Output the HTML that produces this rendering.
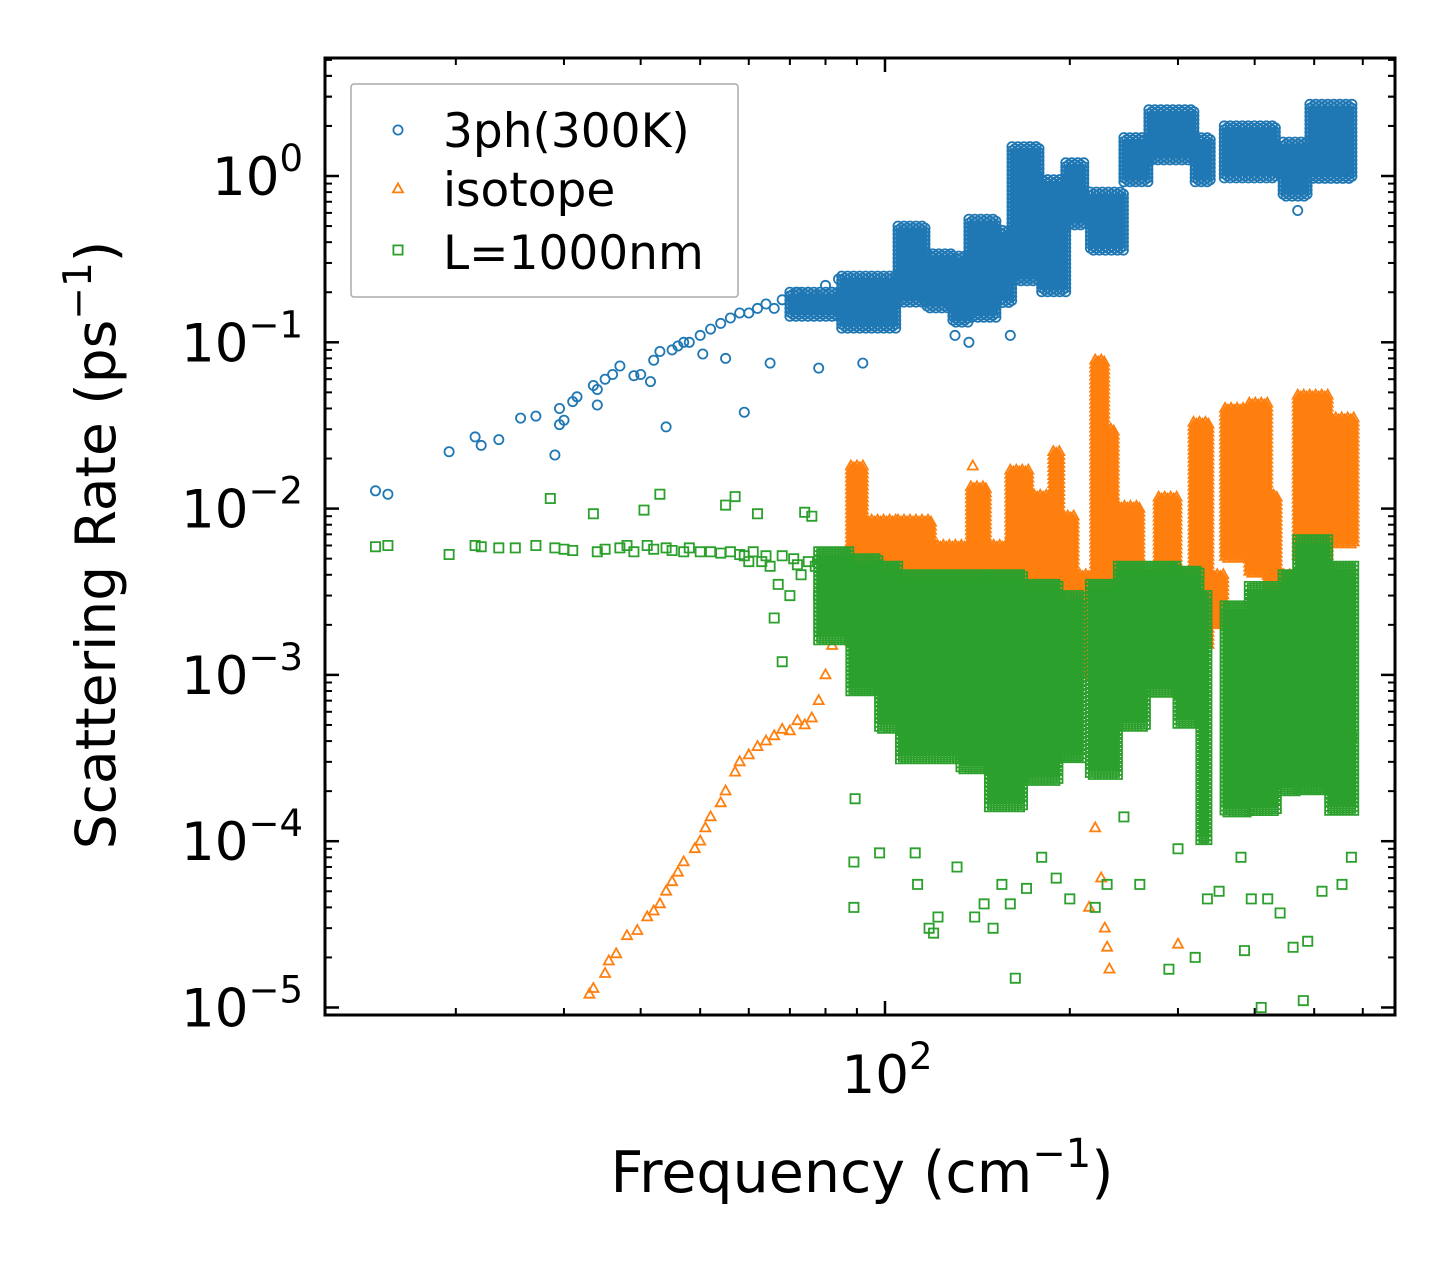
<!DOCTYPE html>
<html><head><meta charset="utf-8">
<style>
html,body{margin:0;padding:0;background:#fff;}
svg{display:block;font-family:"DejaVu Sans","Liberation Sans",sans-serif;}
</style></head>
<body>
<svg id="chart" width="1455" height="1265" viewBox="0 0 1455 1265" xmlns="http://www.w3.org/2000/svg">
<rect width="1455" height="1265" fill="#fff"/>
<g id="plot"></g>
<g id="axes"></g>
</svg>
<script>
// ---- data (frequency in cm^-1, rate in ps^-1) ----
const blueF = [14.8,15.5,19.5,21.5,22,23.5,25.5,27,29,29.5,29.5,30,31,31.5,33.5,34,34,35,36,37,39,40,41.5,42,43,44,45,46,47,48,50,50.5,52,54,55,56,58,59,60,62,64,65,66,68,70,72,75,77,78,80,82,84,86,88,90,92,130,137,160,470];
const blueV = [0.0128,0.0122,0.022,0.027,0.024,0.026,0.035,0.036,0.021,0.032,0.04,0.034,0.044,0.047,0.055,0.052,0.042,0.06,0.064,0.072,0.063,0.064,0.058,0.078,0.088,0.031,0.09,0.095,0.1,0.1,0.11,0.085,0.12,0.13,0.08,0.14,0.15,0.038,0.15,0.16,0.17,0.075,0.16,0.18,0.19,0.2,0.2,0.19,0.07,0.22,0.2,0.24,0.22,0.18,0.23,0.075,0.11,0.1,0.11,0.62];
const blueBandStart = [70,85,105,117,129,137,152,161,180,197,216,245,269,320,357,445,492];
const blueBandEnd   = [85,105,117,129,137,152,161,180,197,211,245,269,320,341,437,492,580];
const blueBandLo    = [0.14,0.12,0.17,0.16,0.13,0.14,0.17,0.23,0.2,0.5,0.35,0.9,1.25,0.9,0.95,0.75,0.95];
const blueBandHi    = [0.2,0.25,0.5,0.34,0.33,0.55,0.47,1.5,0.95,1.2,0.8,1.7,2.5,1.7,2.0,1.6,2.7];

const orangeF = [33,33.5,35,35.5,36.5,38,39.5,41,42,43,44,45,46,47,49,50,51,52,54,55,57,58,60,62,64,66,68,70,72,74,76,78,80,82,85,139,215,220,225,228,230,232,300];
const orangeV = [1.2e-5,1.3e-5,1.6e-5,1.9e-5,2.1e-5,2.7e-5,2.9e-5,3.5e-5,3.8e-5,4.2e-5,5e-5,5.7e-5,6.5e-5,7.5e-5,9e-5,1e-4,1.2e-4,1.4e-4,1.7e-4,2e-4,2.6e-4,3e-4,3.3e-4,3.7e-4,4e-4,4.3e-4,4.7e-4,4.6e-4,5.3e-4,5e-4,5.5e-4,7e-4,1e-3,1.5e-3,2.2e-3,0.018,4e-5,1.2e-4,6e-5,3e-5,2.3e-5,1.7e-5,2.4e-5];
const orangeBandStart = [88,93,105,119,138,147,160,175,188,194,203,220,228,240,262,279,300,318,340,358,392,420,436,470,530];
const orangeBandEnd   = [93,105,119,138,147,160,172,188,194,203,220,228,238,262,279,300,318,340,358,392,420,436,470,530,585];
const orangeBandLo    = [0.0015,0.0015,0.0015,0.0015,0.0015,0.0015,0.0015,0.0015,0.0015,0.0015,0.001,3e-4,4e-4,0.002,0.002,0.002,0.002,0.0015,0.002,0.005,0.004,0.0025,0.002,0.005,0.006];
const orangeBandHi    = [0.018,0.0085,0.0085,0.006,0.0135,0.006,0.017,0.012,0.022,0.009,0.004,0.078,0.03,0.0103,0.004,0.0117,0.004,0.033,0.004,0.04,0.043,0.012,0.004,0.048,0.035];

const greenF = [14.8,15.5,19.5,21.5,22,23.5,25,27,28.5,29,30,31,33.5,34,35,37,38,39,40.5,41,42,43,44,45,47,48,50,52,54,55,56,57,58,59,60,61,62,63,64,65,66,67,68,68,70,71,72,73,74,75,76,77,78,89.4,89,89,98,112,113,118,120,122,131,140,145,150,155,163,160,170,180,190,200,220,230,245,260,290,300,320,335,350,380,385,395,410,420,440,462,480,488,515,555,575,575];
const greenV = [0.0059,0.006,0.0053,0.006,0.0059,0.0058,0.0058,0.006,0.0115,0.0058,0.0057,0.0056,0.0093,0.0055,0.0057,0.0058,0.006,0.0055,0.0098,0.006,0.0057,0.0122,0.0058,0.0056,0.0055,0.0058,0.0055,0.0055,0.0054,0.0105,0.0055,0.0118,0.0053,0.0052,0.0048,0.0055,0.0093,0.0048,0.0052,0.0045,0.0022,0.0035,0.0052,0.0012,0.003,0.005,0.0046,0.004,0.0095,0.0048,0.009,0.0045,0.003,1.8e-4,7.5e-5,4e-5,8.5e-5,8.5e-5,5.5e-5,3e-5,2.8e-5,3.5e-5,7e-5,3.5e-5,4.2e-5,3e-5,5.5e-5,1.5e-5,4.2e-5,5.2e-5,8e-5,6e-5,4.5e-5,4e-5,5.5e-5,1.4e-4,5.5e-5,1.7e-5,9e-5,2e-5,4.5e-5,5e-5,8e-5,2.2e-5,4.5e-5,1e-5,4.5e-5,3.7e-5,2.3e-5,1.1e-5,2.5e-5,5e-5,5.5e-5,8e-5,4.2e-4];
const greenBandStart = [78,88,98,106,133,148,169,193,216,240,266,300,327,358,392,445,470,530];
const greenBandEnd   = [88,98,106,133,148,169,193,211,240,266,300,327,338,392,436,470,530,585];
const greenBandLo    = [0.0016,8e-4,4.7e-4,3.1e-4,2.7e-4,1.6e-4,2.3e-4,3.1e-4,2.5e-4,4.9e-4,7.8e-4,5e-4,1e-4,1.5e-4,1.5e-4,2e-4,2e-4,1.5e-4];
const greenBandHi    = [0.0055,0.005,0.0045,0.004,0.004,0.004,0.0035,0.003,0.0035,0.0045,0.0045,0.0042,0.003,0.0026,0.0034,0.004,0.0065,0.0045];

const yTickExp = [0,-1,-2,-3,-4,-5];
const yTickLabels = ["0","\u22121","\u22122","\u22123","\u22124","\u22125"];
const xMajor = [100];
const xMajorLabels = ["2"];
const xMinor = [20,30,40,50,60,70,80,90,200,300,400,500,600];

// ---- scales ----
const L=325,R=1395,T=58,B=1015;
function xs(f){return 885+614*(Math.log10(f)-2);}
function ys(v){return 176-166.3*Math.log10(v);}
const NS="http://www.w3.org/2000/svg";
const plot=document.getElementById('plot');
const axes=document.getElementById('axes');
function mk(tag,attrs,parent){const e=document.createElementNS(NS,tag);for(const k in attrs)e.setAttribute(k,attrs[k]);parent.appendChild(e);return e;}

const shapes={
 circle:(x,y)=>`M${x-4.6},${y}a4.6,4.6 0 1,0 9.2,0a4.6,4.6 0 1,0 -9.2,0`,
 square:(x,y)=>`M${x-4.6},${y-4.6}h9.2v9.2h-9.2z`,
 tri:(x,y)=>`M${x},${y-5.6}l5,9h-10z`
};
function series(name,color,shape,F,V,bs,be,bl,bh){
  const g=mk('g',{},plot);
  
  
  let d='';
  for(let i=0;i<bs.length;i++){
    const x0=xs(bs[i]),x1=xs(be[i]),yt=ys(bh[i]),yb=ys(bl[i]);
    let c=0;
    for(let x=x0;x<=x1;x+=3,c++){
      for(let y=yt+(c%2)*2;y<=yb;y+=4){d+=shapes[shape](x.toFixed(1),+y.toFixed(1));}
    }
  }
  const band=mk('path',{d:d,fill:'none',stroke:color,'stroke-width':1.8},g);
  
  
  for(let i=0;i<F.length;i++){
    const p=mk('path',{d:shapes[shape](+xs(F[i]).toFixed(1),+ys(V[i]).toFixed(1)),fill:'none',stroke:color,'stroke-width':1.8},g);
    
    
  }
}
series('3ph','#1f77b4','circle',blueF,blueV,blueBandStart,blueBandEnd,blueBandLo,blueBandHi);
series('isotope','#ff7f0e','tri',orangeF,orangeV,orangeBandStart,orangeBandEnd,orangeBandLo,orangeBandHi);
series('boundary','#2ca02c','square',greenF,greenV,greenBandStart,greenBandEnd,greenBandLo,greenBandHi);

const frame=mk('rect',{x:L,y:T,width:R-L,height:B-T,fill:'none',stroke:'#000','stroke-width':3},axes);



for(let e=-5;e<=0;e++){
  for(let m=1;m<10;m++){
    const v=m*Math.pow(10,e);const y=ys(v);if(y<T)continue;
    const len=m===1?14:7;
    const t1=mk('line',{x1:L,x2:L+len,y1:y,y2:y,stroke:'#000','stroke-width':m===1?2.5:2},axes);
    
    const t2=mk('line',{x1:R,x2:R-len,y1:y,y2:y,stroke:'#000','stroke-width':m===1?2.5:2},axes);
    
  }
}
for(let m=2;m<10;m++){const y=ys(m);if(y<T)continue;
  const t1=mk('line',{x1:L,x2:L+7,y1:y,y2:y,stroke:'#000','stroke-width':2},axes);
  
  const t2=mk('line',{x1:R,x2:R-7,y1:y,y2:y,stroke:'#000','stroke-width':2},axes);
  
}
for(let i=0;i<yTickExp.length;i++){
  const y=ys(Math.pow(10,yTickExp[i]));
  const t=mk('text',{x:303,y:y+19,'text-anchor':'end','font-size':53,fill:'#000'},axes);
  
  const a=mk('tspan',{},t);a.textContent='10';
  const b=mk('tspan',{dy:-24,'font-size':37},t);b.textContent=yTickLabels[i];
}
xMinor.forEach(f=>{const x=xs(f);
  const a=mk('line',{x1:x,x2:x,y1:B,y2:B-7,stroke:'#000','stroke-width':2},axes);
  
  const b=mk('line',{x1:x,x2:x,y1:T,y2:T+7,stroke:'#000','stroke-width':2},axes);
  
});
for(let i=0;i<xMajor.length;i++){const x=xs(xMajor[i]);
  const a=mk('line',{x1:x,x2:x,y1:B,y2:B-14,stroke:'#000','stroke-width':2.5},axes);
  
  const b=mk('line',{x1:x,x2:x,y1:T,y2:T+14,stroke:'#000','stroke-width':2.5},axes);
  
  const t=mk('text',{x:x+2,y:1093,'text-anchor':'middle','font-size':53,fill:'#000'},axes);
  
  const s1=mk('tspan',{},t);s1.textContent='10';
  const s2=mk('tspan',{dy:-24,'font-size':37},t);s2.textContent=xMajorLabels[i];
}
</script>
<svg style="position:absolute;left:0;top:0" width="1455" height="1265" xmlns="http://www.w3.org/2000/svg" font-family="DejaVu Sans, Liberation Sans, sans-serif">
<text x="862" y="1192" text-anchor="middle" font-size="57">Frequency (cm<tspan dy="-25" font-size="40">−1</tspan><tspan dy="25">)</tspan></text>
<text transform="translate(115,545) rotate(-90)" text-anchor="middle" font-size="55">Scattering Rate (ps<tspan dy="-24" font-size="39">−1</tspan><tspan dy="24">)</tspan></text>
<g>
<rect x="351" y="84" width="387" height="213" fill="#fff" fill-opacity="0.8" stroke="#aaa" stroke-width="1.5" rx="3"/>
<g>
<circle cx="398" cy="130" r="4.6" fill="none" stroke="#1f77b4" stroke-width="1.8"/>
<text x="443" y="147" font-size="47">3ph(300K)</text></g>
<g>
<path d="M398,183.4l5,9h-10z" fill="none" stroke="#ff7f0e" stroke-width="1.8"/>
<text x="443" y="206" font-size="47">isotope</text></g>
<g>
<rect x="393.4" y="245.4" width="9.2" height="9.2" fill="none" stroke="#2ca02c" stroke-width="1.8"/>
<text x="443" y="269" font-size="47">L=1000nm</text></g>
</g>
</svg>
</body></html>
